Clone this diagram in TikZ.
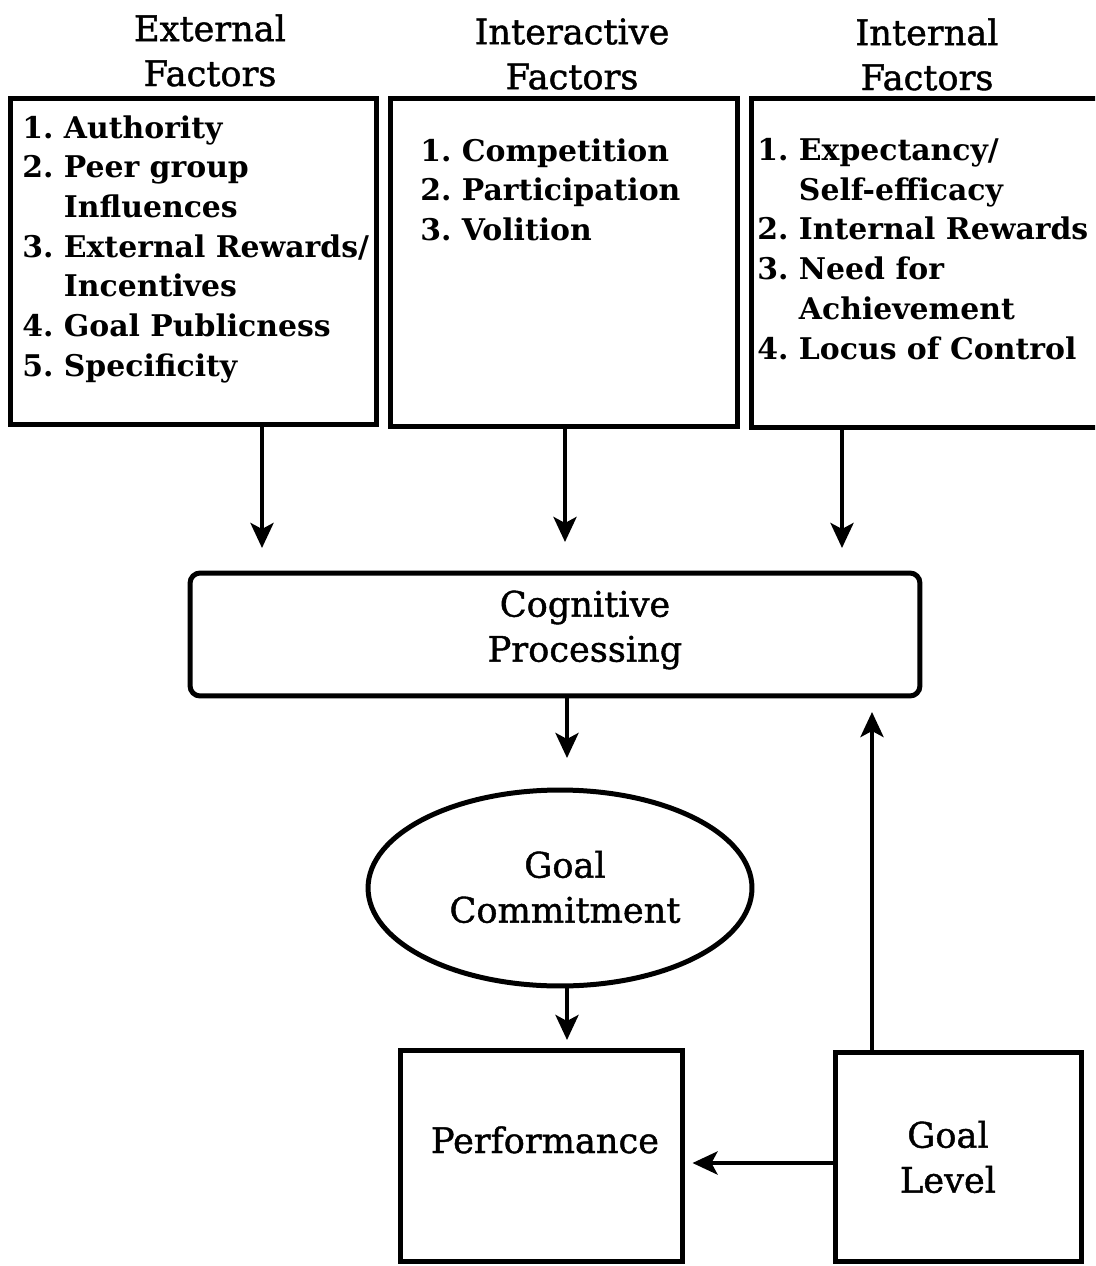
\documentclass[tikz,border=0pt]{standalone}
\usepackage{fontspec}
\setmainfont{DejaVu Serif}
\newfontfamily\headfont[FakeBold=1.2]{DejaVu Serif}
\usetikzlibrary{arrows.meta,shapes.geometric}
\begin{document}
\begin{tikzpicture}[x=0.02cm,y=-0.02cm,
  panel/.style={draw, line width=0.1cm, inner sep=0pt},
  head/.style={align=center, font=\headfont\fontsize{20}{25.6}\selectfont, inner sep=0pt, anchor=north},
  items/.style={align=left, font=\bfseries\fontsize{17}{22.6}\selectfont, inner sep=0pt, anchor=north west},
  boxtext/.style={align=center, font=\headfont\fontsize{20}{25.6}\selectfont, inner sep=0pt},
  flow/.style={line width=0.085cm, -{Stealth[length=0.5cm,width=0.46cm,inset=0.12cm]}}
]
\useasboundingbox (0,0) rectangle (1095,1266);
\clip (0,0) rectangle (1095,1266);

% column headings
\node[head] (h-ext) at (210,14) {External\\Factors};
\node[head] (h-int) at (572,18) {Interactive\\Factors};
\node[head] (h-inn) at (927,18) {Internal\\Factors};

% factor boxes
\node[panel, minimum width=7.34cm, minimum height=6.54cm] (ext) at (193.5,261.5) {};
\node[panel, minimum width=6.96cm, minimum height=6.58cm] (inter) at (564,262.5) {};
\node[panel, minimum width=7.18cm, minimum height=6.60cm] (inn) at (930.5,263) {};

\node[items] (ext-list) at (22,115) {1.~Authority\\2.~Peer group\\\hphantom{2.~}Influences\\3.~External Rewards/\\\hphantom{3.~}Incentives\\4.~Goal Publicness\\5.~Specificity};
\node[items] (inter-list) at (420,138) {1.~Competition\\2.~Participation\\3.~Volition};
\node[items] (inn-list) at (757,138) {1.~Expectancy/\\\hphantom{1.~}Self-efficacy\\2.~Internal Rewards\\3.~Need for\\\hphantom{3.~}Achievement\\4.~Locus of Control};

% central process and outcome shapes
\node[panel, rounded corners=0.2cm, minimum width=14.6cm, minimum height=2.46cm] (cog) at (555,634.5) {};
\node[boxtext] (cog-text) at (585,630) {Cognitive\\Processing};
\node[panel, ellipse, minimum width=7.68cm, minimum height=3.92cm] (commit) at (560,888) {};
\node[boxtext] (commit-text) at (565,887) {Goal\\Commitment};
\node[panel, minimum width=5.66cm, minimum height=4.24cm] (perf) at (541.5,1156) {};
\node[boxtext, anchor=base] (perf-text) at (545,1153) {Performance};
\node[panel, minimum width=4.94cm, minimum height=4.2cm] (level) at (958.5,1157) {};
\node[boxtext] (level-text) at (948,1157) {Goal\\Level};

% arrow targets
\coordinate (t-ext) at (262,548);
\coordinate (t-inter) at (565,542);
\coordinate (t-inn) at (842,548);
\coordinate (t-commit) at (567,758);
\coordinate (t-perf) at (567,1040);
\coordinate (row) at (0,1163);
\coordinate (t-cog) at (872,712);

\draw[flow] (t-ext |- ext.south) -- (t-ext);
\draw[flow] (t-inter |- inter.south) -- (t-inter);
\draw[flow] (t-inn |- inn.south) -- (t-inn);
\draw[flow] (t-commit |- cog.south) -- (t-commit);
\draw[flow] (t-perf |- commit.south) -- (t-perf);
\draw[flow, shorten >=0.14cm] (level.west |- row) -- (perf.east |- row);
\draw[flow] (t-cog |- level.north) -- (t-cog);
\end{tikzpicture}
\end{document}
